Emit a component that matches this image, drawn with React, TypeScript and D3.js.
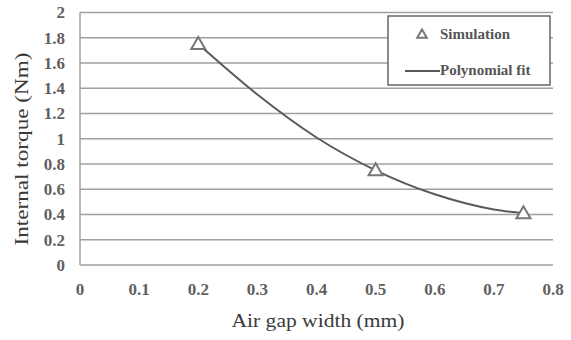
import * as d3 from "d3";

// simulation points (air gap mm, torque Nm)
const simX = [0.2, 0.5, 0.75];
const simY = [1.75, 0.75, 0.41];

// polynomial fit
const fitX = [0.2, 0.3, 0.4, 0.5, 0.6, 0.7, 0.75];
const fitY = [1.75, 1.35, 1.01, 0.75, 0.56, 0.44, 0.41];

const xTicks = [0, 0.1, 0.2, 0.3, 0.4, 0.5, 0.6, 0.7, 0.8];
const yTicks = [0, 0.2, 0.4, 0.6, 0.8, 1, 1.2, 1.4, 1.6, 1.8, 2];

const W = 571;
const H = 340;
const FONT = "'Liberation Serif', 'DejaVu Serif', serif";

export default function App() {
  const x = d3.scaleLinear().domain([0, 0.8]).range([80, 553]);
  const y = d3.scaleLinear().domain([0, 2]).range([265, 12.5]);

  const line = d3
    .line<number>()
    .x((_, i) => x(fitX[i]))
    .y((d) => y(d))
    .curve(d3.curveMonotoneX);

  const tri = d3.symbol().type(d3.symbolTriangle).size(85);

  return (
    <svg
      width={W}
      height={H}
      style={{ position: "absolute", left: 0, top: 0, background: "#fff" }}
      fontFamily={FONT}
    >
      {/* grid */}
      {yTicks.map((t) => (
        <line
          key={t}
          x1={x(0)}
          x2={x(0.8)}
          y1={y(t)}
          y2={y(t)}
          stroke="#a0a0a0"
          strokeWidth={1.5}
        />
      ))}
      <line x1={x(0)} x2={x(0)} y1={y(0)} y2={y(2)} stroke="#a0a0a0" strokeWidth={1.5} />

      {/* y tick labels */}
      {yTicks.map((t) => (
        <text
          key={t}
          x={65}
          y={y(t)}
          dy="0.35em"
          textAnchor="end"
          fontSize={17}
          fontWeight="bold"
          fill="#606060"
        >
          {d3.format("~g")(t)}
        </text>
      ))}

      {/* x tick labels */}
      {xTicks.map((t) => (
        <text
          key={t}
          x={x(t)}
          y={289}
          dy="0.35em"
          textAnchor="middle"
          fontSize={17}
          fontWeight="bold"
          fill="#606060"
        >
          {d3.format("~g")(t)}
        </text>
      ))}

      {/* fit */}
      <path d={line(fitY) ?? ""} fill="none" stroke="#5a5a5a" strokeWidth={2} />

      {/* simulation markers */}
      {simX.map((v, i) => (
        <path
          key={v}
          d={tri() ?? ""}
          transform={`translate(${x(v)},${y(simY[i]) + 1})`}
          fill="#fff"
          stroke="#777"
          strokeWidth={2}
        />
      ))}

      {/* axis titles */}
      <text
        x={318}
        y={327}
        textAnchor="middle"
        fontSize={18}
        fill="#3a3a3a"
        textLength={173}
        lengthAdjust="spacingAndGlyphs"
      >
        Air gap width (mm)
      </text>
      <text
        transform="translate(28,149) rotate(-90)"
        textAnchor="middle"
        fontSize={18}
        fill="#3a3a3a"
        textLength={193}
        lengthAdjust="spacingAndGlyphs"
      >
        Internal torque (Nm)
      </text>

      {/* legend */}
      <rect x={388} y={16} width={162} height={69} fill="#fff" stroke="#666" strokeWidth={1.5} />
      <path
        d={d3.symbol().type(d3.symbolTriangle).size(40)() ?? ""}
        transform="translate(422,35)"
        fill="#fff"
        stroke="#777"
        strokeWidth={2}
      />
      <text x={440} y={34} dy="0.35em" fontSize={15} fontWeight="bold" fill="#555">
        Simulation
      </text>
      <line x1={405} x2={440} y1={71} y2={71} stroke="#5a5a5a" strokeWidth={2} />
      <text x={440} y={70} dy="0.35em" fontSize={15} fontWeight="bold" fill="#555">
        Polynomial fit
      </text>
    </svg>
  );
}
